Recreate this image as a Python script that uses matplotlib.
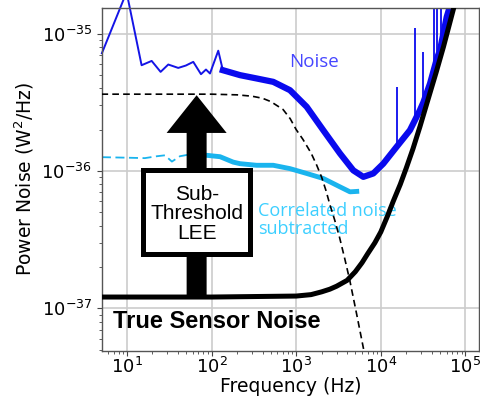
import numpy as np
import matplotlib
matplotlib.use("Agg")
import matplotlib.pyplot as plt
from matplotlib.patches import Polygon, Rectangle

# --- data ---
# raw noise, low-frequency part (thin line)
noise_lo_f = [5.06, 9.9, 14.9, 19.6, 25.0, 30.8, 40.4, 49.7, 60.8, 75, 85.9, 95.8, 120, 136, 217]
noise_lo_p = [7.19e-36, 2.0e-35, 5.88e-36, 6.32e-36, 5.26e-36, 5.95e-36, 5.62e-36, 5.85e-36,
              6.22e-36, 5.06e-36, 5.47e-36, 5.12e-36, 7.5e-36, 5.41e-36, 4.98e-36]

# raw noise, high-frequency part (dense band)
noise_hi_f = [136, 217, 341, 536, 845, 1331, 2089, 3296, 4733, 6213, 8151, 1.07e4, 1.54e4,
              2.21e4, 2.54e4, 2.9e4, 3.18e4, 3.82e4, 4.61e4, 5.01e4, 6.01e4, 6.4e4]
noise_hi_p = [5.41e-36, 4.98e-36, 4.71e-36, 4.45e-36, 3.87e-36, 2.93e-36, 1.98e-36, 1.34e-36,
              1.01e-36, 9.06e-37, 9.59e-37, 1.13e-36, 1.5e-36, 1.98e-36, 2.35e-36, 2.77e-36,
              3.15e-36, 4.33e-36, 6.6e-36, 7.57e-36, 1.32e-35, 1.5e-35]

# narrow lines sticking out of the noise band
spike_f = [1.54e4, 2.54e4, 3.18e4, 4.3e4, 4.61e4, 5.15e4]
spike_base = [1.5e-36, 2.35e-36, 3.15e-36, 5.4e-36, 6.6e-36, 8.3e-36]
spike_top = [4.09e-36, 1.09e-35, 7.35e-36, 1.6e-35, 1.6e-35, 1.6e-35]

# correlated noise subtracted: dashed low part + dense band
corr_lo_f = [5.06, 9.47, 16.3, 22.6, 28.1, 34.0, 42.3, 55.5, 69]
corr_lo_p = [1.26e-36, 1.25e-36, 1.24e-36, 1.28e-36, 1.30e-36, 1.17e-36, 1.28e-36, 1.32e-36, 1.30e-36]
corr_hi_f = [69, 87.5, 126, 180, 217, 341, 536, 845, 1331, 2089, 3296, 4325, 5200]
corr_hi_p = [1.30e-36, 1.30e-36, 1.27e-36, 1.16e-36, 1.13e-36, 1.10e-36, 1.10e-36, 1.04e-36,
             9.59e-37, 8.82e-37, 7.66e-37, 7.05e-37, 7.1e-37]

# LEE model (dashed black)
lee_f = [5, 100, 200, 300, 400, 500, 700, 850, 1000, 1200, 1500, 1750, 2000, 2250, 2500,
         2850, 3250, 3750, 4300, 5200, 6500]
lee_p = [3.62e-36, 3.62e-36, 3.58e-36, 3.5e-36, 3.38e-36, 3.2e-36, 2.8e-36, 2.4e-36, 2.0e-36,
         1.7e-36, 1.35e-36, 1.1e-36, 0.9e-36, 0.72e-36, 0.57e-36, 0.44e-36, 0.33e-36, 0.23e-36,
         0.16e-36, 0.09e-36, 0.045e-36]

# true sensor noise (thick black)
true_f = [5, 100, 1000, 1500, 2000, 2500, 3000, 4000, 5000, 6000, 7000, 8500, 1e4, 1.2e4,
          1.4e4, 1.7e4, 2e4, 2.4e4, 2.9e4, 3.5e4, 4.5e4, 5.5e4, 7.5e4]
true_p = [1.21e-37, 1.21e-37, 1.23e-37, 1.26e-37, 1.32e-37, 1.38e-37, 1.45e-37, 1.6e-37,
          1.85e-37, 2.15e-37, 2.5e-37, 3.0e-37, 3.6e-37, 4.7e-37, 6.0e-37, 8.0e-37, 10.5e-37,
          14.5e-37, 21e-37, 31e-37, 52e-37, 80e-37, 165e-37]

# --- figure ---
fig = plt.figure(figsize=(4.81, 4.01), dpi=100)
ax = fig.add_axes([0.212, 0.1247, 0.784, 0.855])
ax.set_xscale('log')
ax.set_yscale('log')
ax.set_xlim(5.07, 1.45e5)
ax.set_ylim(4.9e-38, 1.53e-35)

ax.grid(True, which='major', color='#cccccc', lw=1.2, zorder=0)
ax.set_axisbelow(True)
for s in ax.spines.values():
    s.set_color('#555555')
    s.set_linewidth(1.0)
ax.tick_params(which='major', length=3.6, width=0.8, labelsize=13, color='#444444')
ax.tick_params(axis='x', which='major', pad=1)
ax.tick_params(which='minor', length=2, width=0.6, color='#444444')
ax.set_xlabel('Frequency (Hz)', fontsize=13.5, labelpad=0)
ax.set_ylabel('Power Noise (W$^2$/Hz)', fontsize=13.5, labelpad=4)

# correlated-noise-subtracted curve
ax.plot(corr_lo_f, corr_lo_p, color='#1ab4ee', lw=1.3, ls=(0, (5, 2.5)), zorder=2)
ax.plot(corr_hi_f, corr_hi_p, color='#1ab4ee', lw=3.5, zorder=2, solid_joinstyle='round')

# raw noise
ax.plot(noise_lo_f, noise_lo_p, color='#1414e6', lw=1.4, zorder=2, clip_on=False)
ax.plot(noise_hi_f, noise_hi_p, color='#0a0aee', lw=4.5, zorder=2, solid_joinstyle='round')
ax.vlines(spike_f, spike_base, spike_top, color='#0a0aee', lw=1.3, zorder=2)

# LEE roll-off and true sensor noise
ax.plot(lee_f, lee_p, color='black', lw=1.2, ls=(0, (4, 2.5)), zorder=3)
ax.plot(true_f, true_p, color='black', lw=3.6, zorder=6, solid_capstyle='butt')

# big arrow + box
cx, hw, sw = 0.251, 0.0796, 0.0265
arrow = Polygon([(cx - sw, 0.160), (cx - sw, 0.636), (cx - hw, 0.636), (cx, 0.746),
                 (cx + hw, 0.636), (cx + sw, 0.636), (cx + sw, 0.160)],
                closed=True, transform=ax.transAxes, facecolor='black', edgecolor='none', zorder=4)
ax.add_patch(arrow)
box = Rectangle((0.1093, 0.2822), 0.3931 - 0.1093, 0.5283 - 0.2822, transform=ax.transAxes,
                facecolor='white', edgecolor='black', lw=3.6, zorder=5)
ax.add_patch(box)
ax.text(cx, 0.400, 'Sub-\nThreshold\nLEE', transform=ax.transAxes, ha='center', va='center',
        fontsize=15, family='Liberation Sans', linespacing=1.05, zorder=7)

ax.text(0.029, 0.0854, 'True Sensor Noise', transform=ax.transAxes, ha='left', va='center',
        fontsize=17, family='Liberation Sans', weight='bold', zorder=7)
ax.text(0.562, 0.8426, 'Noise', transform=ax.transAxes, ha='center', va='center',
        fontsize=13.5, family='Open Sans', color='#4646ff', zorder=7)
ax.text(0.414, 0.383, 'Correlated noise\nsubtracted', transform=ax.transAxes, ha='left',
        va='center', fontsize=13, family='Open Sans', color='#3ccfff', linespacing=1.0, zorder=1)

fig.savefig('out.png', dpi=100)
